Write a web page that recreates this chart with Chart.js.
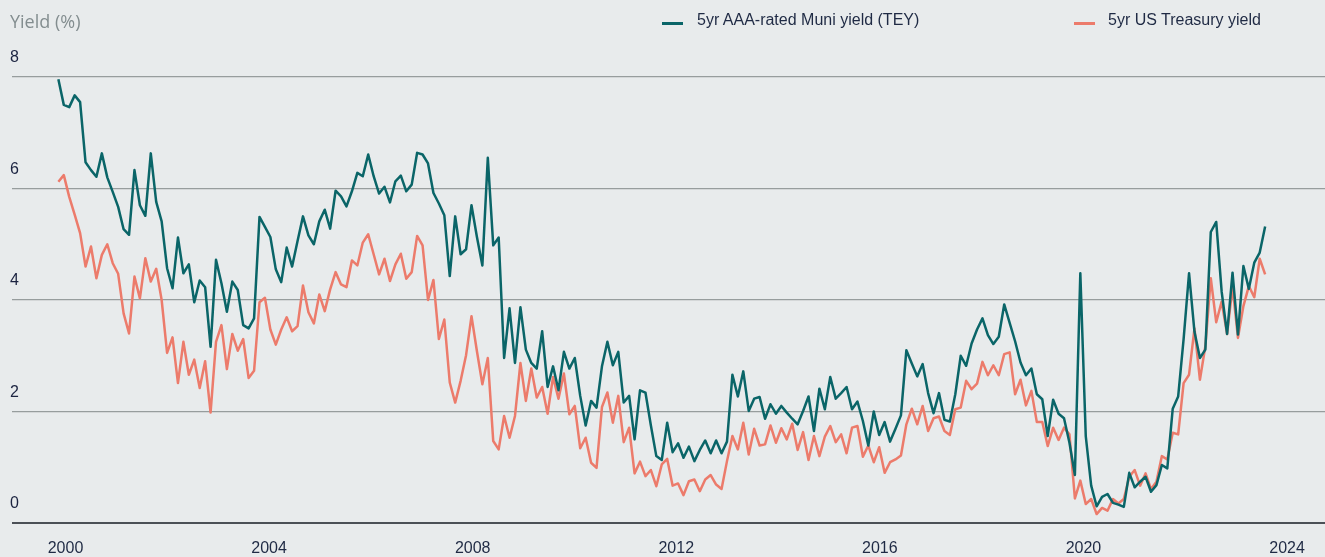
<!DOCTYPE html>
<html>
<head>
<meta charset="utf-8">
<script src="https://cdn.jsdelivr.net/npm/chart.js@4/dist/chart.umd.min.js"></script>
<style>
  html, body { margin: 0; padding: 0; background: #e8ebec; }
  #wrap { position: relative; width: 1325px; height: 557px; background: #e8ebec; overflow: hidden; }
  #yieldChart { position: absolute; left: 0; top: 0; }
  .axis-title { position: absolute; left: 10px; top: 12px; font: 18px/18px "Open Sans", sans-serif; color: #838d8f; }
  .legend-item { position: absolute; top: 12px; font: 16px/16px "Liberation Sans", Arial, sans-serif; color: #1f2a44; white-space: nowrap; }
  .legend-swatch { position: absolute; top: 22px; width: 21px; height: 3px; }
</style>
</head>
<body>
<div id="wrap">
  <canvas id="yieldChart" width="1325" height="557"></canvas>
  <div class="axis-title">Yield (%)</div>
  <div class="legend-swatch" style="left:662px; background:#0a6568;"></div>
  <div class="legend-item" style="left:697px;">5yr AAA-rated Muni yield (TEY)</div>
  <div class="legend-swatch" style="left:1074px; background:#ec7b6b;"></div>
  <div class="legend-item" style="left:1108px;">5yr US Treasury yield</div>
</div>
<script>
// --- Data ---
const firstObs = 1999.86;   // first observation, decimal year
const lastObs = 2023.57;    // last observation, decimal year

const muniYield = [
  7.96, 7.50, 7.46, 7.67, 7.55, 6.47, 6.33, 6.21, 6.63, 6.20, 5.94, 5.67, 5.27, 5.17, 6.33, 5.70, 5.51, 6.63, 5.76, 5.41,
  4.57, 4.21, 5.12, 4.48, 4.64, 3.96, 4.35, 4.23, 3.16, 4.72, 4.30, 3.79, 4.33, 4.18, 3.55, 3.49, 3.67,
  5.49, 5.31, 5.13, 4.55, 4.32, 4.94, 4.60, 5.06, 5.50, 5.16, 5.00, 5.41, 5.62, 5.28, 5.96, 5.86, 5.68, 5.95, 6.28, 6.22,
  6.61, 6.22, 5.91, 6.03, 5.75, 6.13, 6.23, 5.95, 6.07, 6.64, 6.61, 6.45, 5.92, 5.73, 5.52, 4.43, 5.50,
  4.82, 4.91, 5.70, 5.13, 4.62, 6.55, 4.98, 5.12, 2.96, 3.85, 2.87, 3.87, 3.11, 2.87, 2.77, 3.44, 2.44, 2.81, 2.38, 3.07,
  2.77, 2.96, 2.28, 1.75, 2.19, 2.07, 2.81, 3.25, 2.83, 3.07, 2.16, 2.28, 1.50, 2.38, 2.34, 1.75, 1.20,
  1.13, 1.80, 1.27, 1.43, 1.17, 1.37, 1.11, 1.31, 1.48, 1.25, 1.48, 1.25, 1.46, 2.66, 2.27, 2.72, 2.01, 2.23, 2.26, 1.87,
  2.13, 1.96, 2.10, 1.98, 1.87, 1.77, 2.01, 2.27, 1.65, 2.41, 2.04, 2.62, 2.23, 2.33, 2.44, 2.04, 2.18,
  1.83, 1.39, 2.00, 1.58, 1.81, 1.46, 1.69, 1.93, 3.10, 2.86, 2.63, 2.85, 2.33, 1.97, 2.33, 1.85, 1.82, 2.31, 3.00, 2.82,
  3.22, 3.47, 3.67, 3.37, 3.21, 3.34, 3.92, 3.59, 3.26, 2.88, 2.65, 2.77, 2.31, 2.22, 1.56, 2.21,
  1.96, 1.88, 1.44, 0.86, 4.48, 1.56, 0.67, 0.30, 0.47, 0.52, 0.36, 0.33, 0.29, 0.90, 0.64, 0.74, 0.83, 0.56, 0.68, 1.04,
  0.98, 2.05, 2.27, 3.30, 4.48, 3.43, 2.96, 3.11, 5.22, 5.40, 4.15, 3.39, 4.49, 3.38, 4.61, 4.20, 4.67, 4.85, 5.32
];

const treasuryYield = [
  6.12, 6.24, 5.85, 5.53, 5.20, 4.60, 4.96, 4.39, 4.81, 5.00, 4.66, 4.47, 3.76, 3.40, 4.42, 4.03, 4.75, 4.33, 4.56, 4.00,
  3.05, 3.33, 2.51, 3.25, 2.66, 2.93, 2.42, 2.90, 1.98, 3.25, 3.55, 2.76, 3.39, 3.09, 3.30, 2.60, 2.73,
  3.96, 4.04, 3.47, 3.20, 3.47, 3.69, 3.44, 3.53, 4.26, 3.78, 3.58, 4.10, 3.80, 4.19, 4.50, 4.28, 4.23, 4.71, 4.62, 5.03,
  5.18, 4.82, 4.46, 4.74, 4.34, 4.64, 4.83, 4.38, 4.50, 5.15, 4.98, 4.00, 4.36, 3.30, 3.65, 2.52, 2.16,
  2.55, 3.01, 3.71, 3.08, 2.49, 2.96, 1.47, 1.32, 1.92, 1.53, 1.92, 2.87, 2.19, 2.77, 2.25, 2.44, 1.96, 2.62, 2.23, 2.68,
  1.95, 2.10, 1.34, 1.53, 1.08, 0.99, 2.08, 2.34, 1.80, 2.28, 1.45, 1.71, 0.89, 1.10, 0.84, 0.95, 0.66,
  1.05, 1.15, 0.67, 0.71, 0.50, 0.75, 0.78, 0.57, 0.78, 0.86, 0.69, 0.61, 1.11, 1.56, 1.32, 1.80, 1.23, 1.69, 1.39, 1.41,
  1.75, 1.44, 1.70, 1.50, 1.78, 1.31, 1.63, 1.13, 1.56, 1.20, 1.55, 1.74, 1.45, 1.59, 1.25, 1.71, 1.74,
  1.19, 1.39, 1.09, 1.36, 0.90, 1.09, 1.14, 1.21, 1.77, 2.05, 1.77, 2.10, 1.65, 1.88, 1.91, 1.65, 1.58, 2.04, 2.07, 2.55,
  2.40, 2.50, 2.89, 2.65, 2.83, 2.65, 3.03, 3.06, 2.31, 2.57, 2.11, 2.37, 1.81, 1.81, 1.38, 1.71,
  1.49, 1.71, 1.59, 0.44, 0.76, 0.34, 0.43, 0.16, 0.27, 0.22, 0.43, 0.35, 0.43, 0.83, 0.95, 0.67, 0.89, 0.61, 0.74, 1.20,
  1.14, 1.62, 1.59, 2.51, 2.66, 3.49, 2.57, 3.17, 4.39, 3.60, 3.97, 3.39, 4.24, 3.32, 3.89, 4.25, 4.05, 4.74, 4.46
];

const xTickYears = [2000, 2004, 2008, 2012, 2016, 2020, 2024];
const yTickValues = [0, 2, 4, 6, 8];

document.addEventListener('DOMContentLoaded', () => {
  const ctx = document.getElementById('yieldChart');

  // observations are evenly spaced between the first and last date
  const step = (lastObs - firstObs) / (muniYield.length - 1);
  const toPoints = (arr) => arr.map((v, i) => ({ x: firstObs + i * step, y: v }));

  const tickFont = { family: '"Liberation Sans", Arial, sans-serif', size: 16 };

  new Chart(ctx, {
    type: 'line',
    data: {
      datasets: [{
        label: '5yr AAA-rated Muni yield (TEY)',
        data: toPoints(muniYield),
        borderColor: '#0a6568',
        borderWidth: 2.5,
        borderJoinStyle: 'round',
        pointRadius: 0,
        tension: 0
      }, {
        label: '5yr US Treasury yield',
        data: toPoints(treasuryYield),
        borderColor: '#ec7b6b',
        borderWidth: 2.5,
        borderJoinStyle: 'round',
        pointRadius: 0,
        tension: 0
      }]
    },
    options: {
      responsive: false,
      animation: false,
      layout: { padding: { top: 77, left: 12, right: 0, bottom: 0 } },
      plugins: {
        legend: { display: false }, // legend is drawn as html above
        tooltip: { enabled: false }
      },
      scales: {
        x: {
          type: 'linear',
          min: 1998.949,
          max: 2024.746,
          afterBuildTicks: (scale) => { scale.ticks = xTickYears.map(v => ({ value: v })); },
          afterFit: (scale) => { scale.height = 34; },
          border: { display: false },
          grid: { display: false, drawTicks: false },
          ticks: {
            font: tickFont,
            color: '#1f2a44',
            padding: 16,
            maxRotation: 0,
            autoSkip: false,
            callback: (v) => String(v)
          }
        },
        y: {
          min: 0,
          max: 8,
          afterBuildTicks: (scale) => { scale.ticks = yTickValues.map(v => ({ value: v })); },
          afterFit: (scale) => { scale.width = 0; },
          border: { display: false },
          grid: {
            drawTicks: false,
            color: (c) => c.tick && c.tick.value === 0 ? '#4b5056' : '#979d9d',
            lineWidth: (c) => c.tick && c.tick.value === 0 ? 2 : 1.3
          },
          ticks: {
            mirror: true,
            padding: -2,
            labelOffset: -19,
            font: tickFont,
            color: '#1b2340',
            callback: (v) => String(v)
          }
        }
      }
    }
  });
});
</script>
</body>
</html>
